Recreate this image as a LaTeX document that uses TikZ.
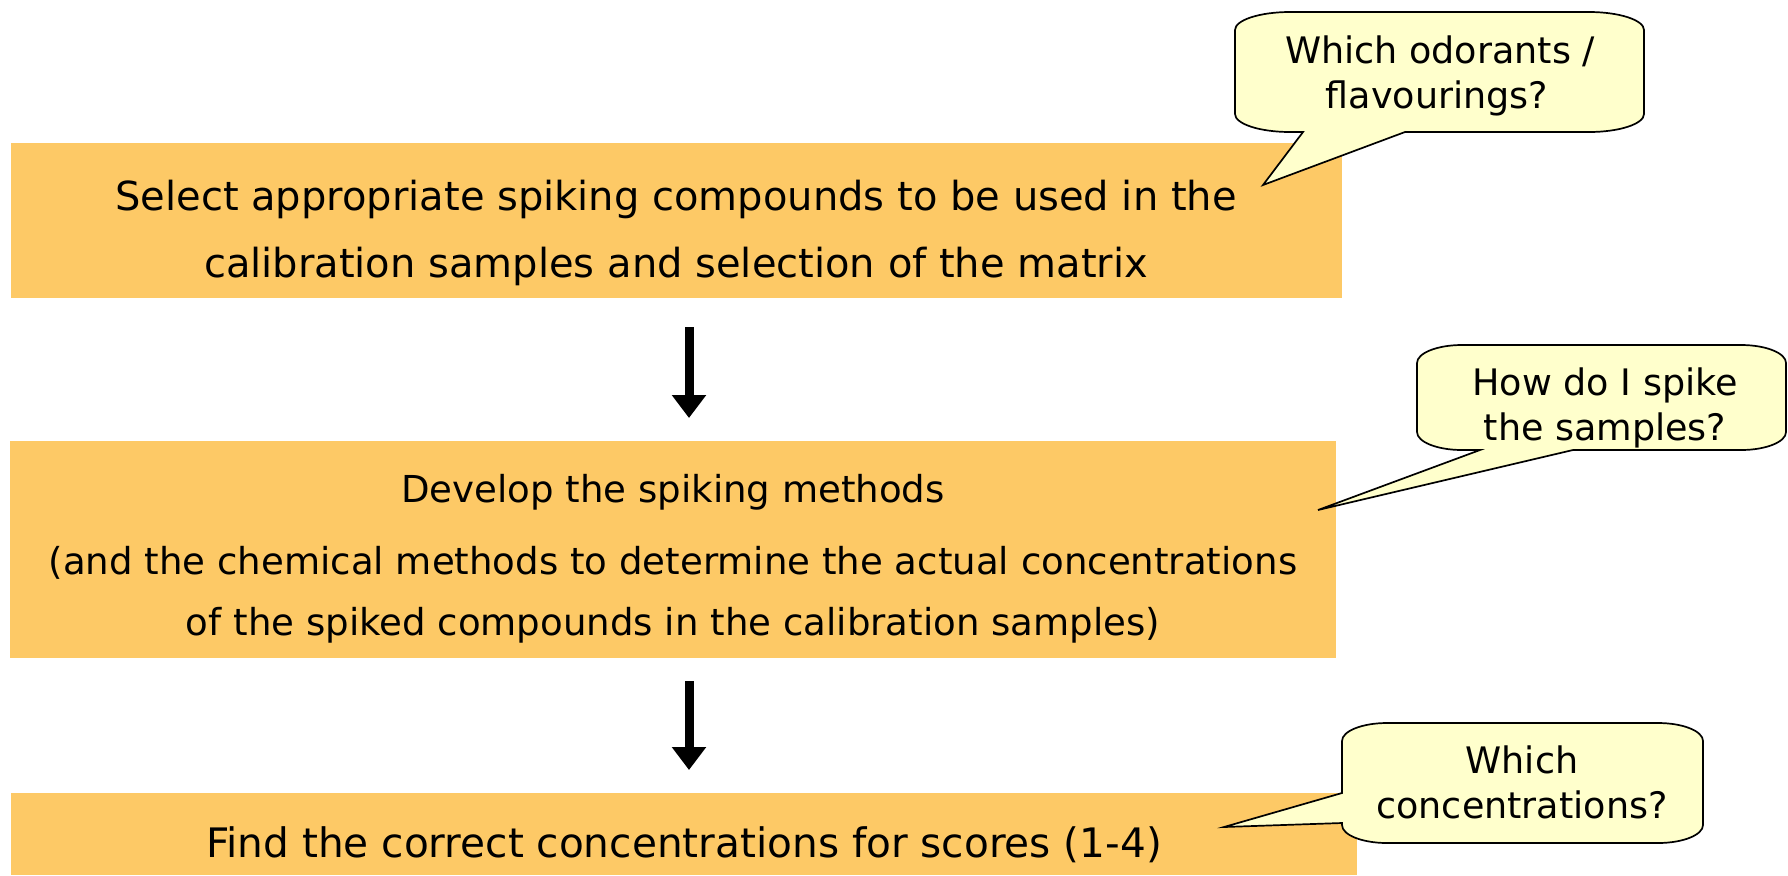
\documentclass[tikz,border=0pt]{standalone}
\usepackage{fontspec}
\setmainfont{DejaVu Sans}
\usetikzlibrary{arrows.meta}
\definecolor{boxfill}{RGB}{253,201,102}
\definecolor{callfill}{RGB}{255,255,204}
\begin{document}
\begin{tikzpicture}[x=0.5pt,y=0.5pt,
  stepbox/.style={fill=boxfill, draw=none, inner sep=0pt, outer sep=0pt, anchor=north west},
  bigtxt/.style={anchor=base, inner sep=0pt, font=\fontsize{20}{24}\selectfont},
  findtxt/.style={anchor=base, inner sep=0pt, font=\fontsize{20.3}{24}\selectfont},
  midtxt/.style={anchor=base, inner sep=0pt, font=\fontsize{18.55}{22}\selectfont},
  calltxt/.style={anchor=base, inner sep=0pt, font=\fontsize{18.25}{22}\selectfont},
  callout/.style={fill=callfill, draw=black, line width=0.85pt, line join=miter},
  flowarrow/.style={line width=4.5pt, -{Triangle[width=16.5pt,length=11.5pt]}}
]
\fill[white] (0,0) rectangle (1788,-875);
\useasboundingbox (0,0) rectangle (1788,-875);

% boxes
\node[stepbox, minimum width=665.5pt, minimum height=77.5pt] (b1) at (11,-143) {};
\node[stepbox, minimum width=663pt, minimum height=108.5pt] (b2) at (10,-441) {};
\node[stepbox, minimum width=673pt, minimum height=41pt] (b3) at (11,-793) {};

% box texts
\node[bigtxt] (t11) at (676,-210) {Select appropriate spiking compounds to be used in the};
\node[bigtxt] (t12) at (676,-277) {calibration samples and selection of the matrix};
\node[midtxt] (t21) at (673,-502) {Develop the spiking methods};
\node[midtxt] (t22) at (673,-574) {(and the chemical methods to determine the actual concentrations};
\node[midtxt] (t23) at (673,-635) {of the spiked compounds in the calibration samples)};
\node[findtxt] (t31) at (684,-857) {Find the correct concentrations for scores (1-4)};

% arrows
\coordinate (a1s) at (689,-327);
\coordinate (a1e) at (689,-418);
\coordinate (a2s) at (689,-681);
\coordinate (a2e) at (689,-770);
\draw[flowarrow] (a1s) -- (a1e);
\draw[flowarrow] (a2s) -- (a2e);

% callout 1
\draw[callout] (1263,-185) -- (1303,-132) -- (1290,-132)
  arc[start angle=270, end angle=180, x radius=55, y radius=18] -- (1235,-30)
  arc[start angle=180, end angle=90, x radius=55, y radius=18] -- (1589,-12)
  arc[start angle=90, end angle=0, x radius=55, y radius=18] -- (1644,-114)
  arc[start angle=0, end angle=-90, x radius=55, y radius=18] -- (1405,-132) -- cycle;
\node[calltxt] (c11) at (1440,-63) {Which odorants /};
\node[calltxt] (c12) at (1437,-108) {flavourings?};

% callout 2
\draw[callout] (1318,-510) -- (1480,-450) -- (1462,-450)
  arc[start angle=270, end angle=180, x radius=45, y radius=18] -- (1417,-363)
  arc[start angle=180, end angle=90, x radius=45, y radius=18] -- (1741,-345)
  arc[start angle=90, end angle=0, x radius=45, y radius=18] -- (1786,-432)
  arc[start angle=0, end angle=-90, x radius=45, y radius=18] -- (1573,-450) -- cycle;
\node[calltxt] (c21) at (1605,-395) {How do I spike};
\node[calltxt] (c22) at (1605,-440) {the samples?};

% callout 3
\draw[callout] (1224,-827) -- (1342,-793) -- (1342,-741)
  arc[start angle=180, end angle=90, x radius=45, y radius=18] -- (1658,-723)
  arc[start angle=90, end angle=0, x radius=45, y radius=18] -- (1703,-825)
  arc[start angle=0, end angle=-90, x radius=45, y radius=18] -- (1387,-843)
  arc[start angle=270, end angle=180, x radius=45, y radius=18] -- (1342,-823) -- cycle;
\node[calltxt] (c31) at (1522,-773) {Which};
\node[calltxt] (c32) at (1522,-818) {concentrations?};
\end{tikzpicture}
\end{document}
